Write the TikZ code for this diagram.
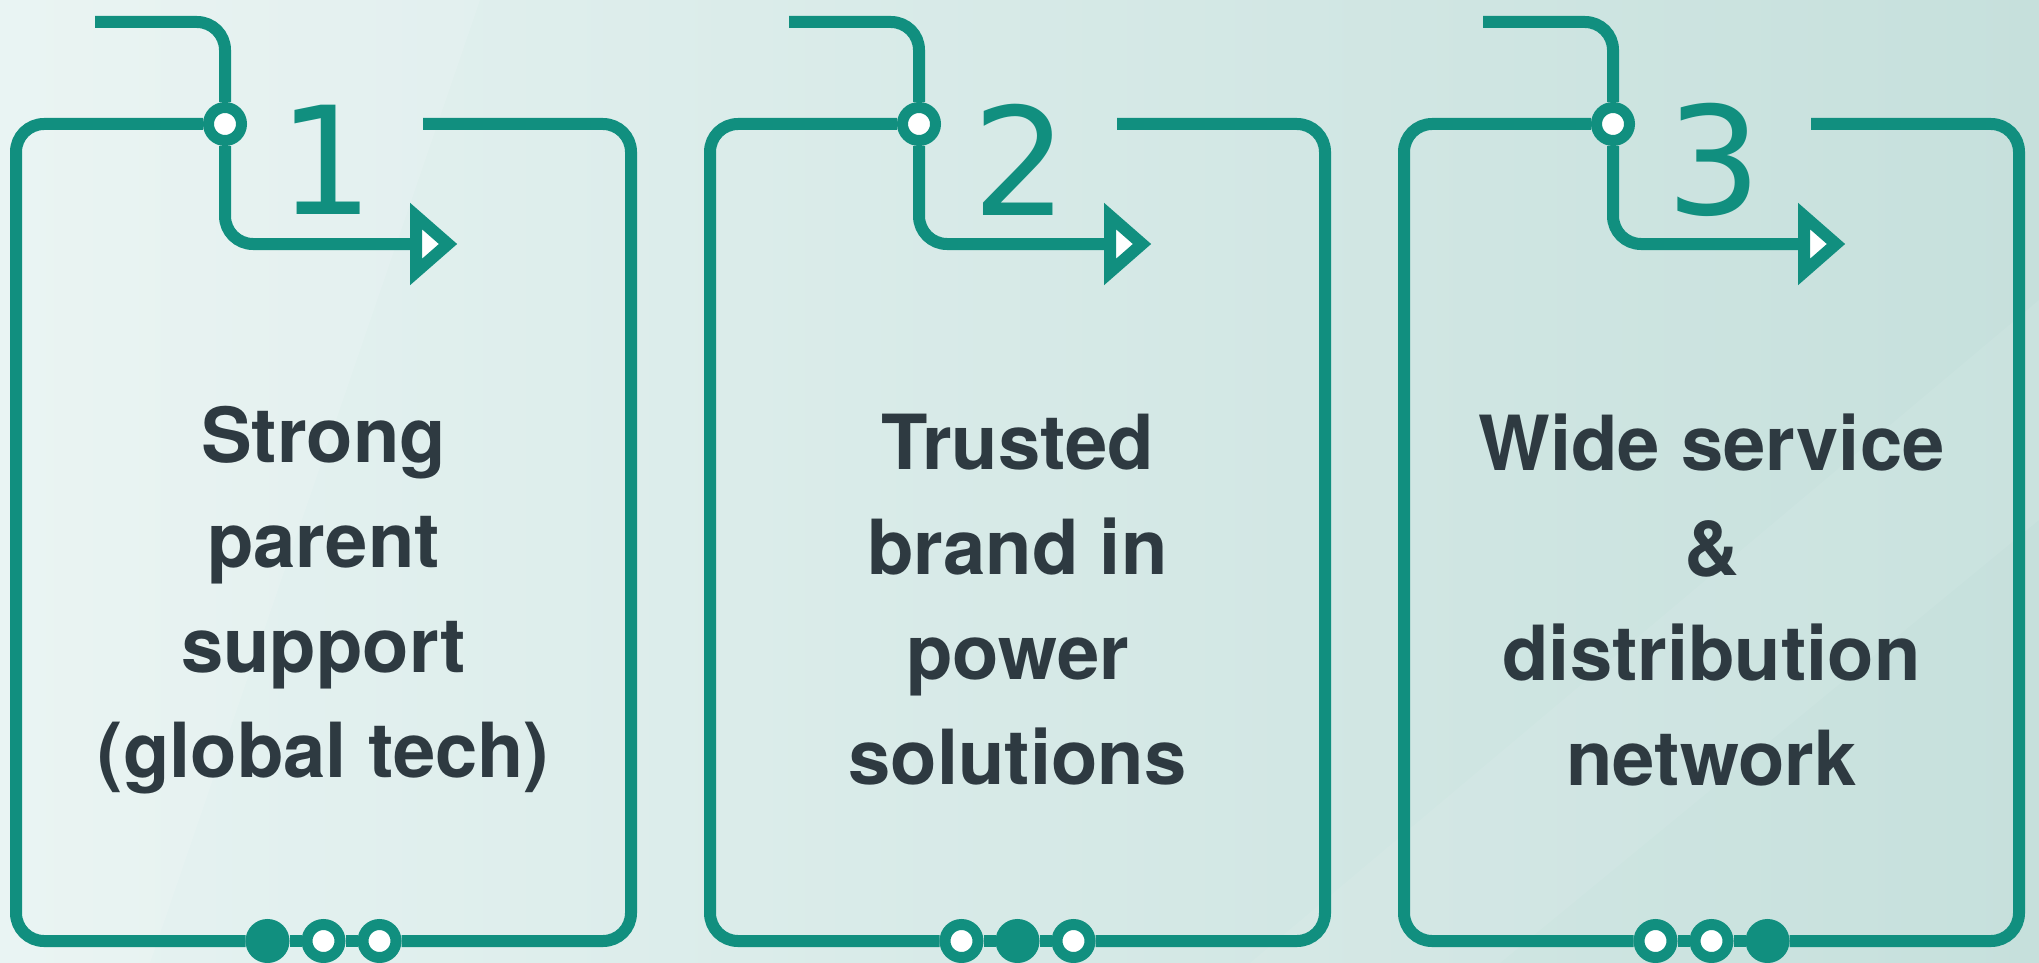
\documentclass[tikz,border=0pt]{standalone}
\usepackage{fontspec}
\setmainfont{TeX Gyre Heros}
\newfontfamily\digitfont{DejaVu Sans}
\usepackage{tikz}
\usetikzlibrary{calc}
\definecolor{trackcol}{HTML}{118F7F}
\definecolor{textcol}{HTML}{2E3A41}
\definecolor{bgleft}{HTML}{E7F3F2}
\definecolor{bgright}{HTML}{C6E0DC}
\tikzset{
  track/.style={line width=6pt,trackcol,rounded corners=14pt},
  junction/.style={circle,draw=trackcol,line width=5.5pt,fill=white,inner sep=0pt,minimum size=16.5pt},
  dotopen/.style={junction},
  dotfull/.style={junction,fill=trackcol},
  arrowhead/.style={line width=6pt,draw=trackcol,fill=white,line join=miter},
  digit/.style={text=trackcol,inner sep=0pt,font=\digitfont\fontsize{75}{75}\selectfont},
  caption/.style={text=textcol,align=center,inner sep=0pt,font=\bfseries\fontsize{38}{52.5}\selectfont},
}

\begin{document}
\begin{tikzpicture}[x=0.5pt,y=-0.5pt]
  \useasboundingbox (0,0) rectangle (2039,963);
  \shade[left color=bgleft,right color=bgright] (0,0) rectangle (2039,963);
  \fill[white,opacity=0.12] (0,0) -- (480,0) -- (150,963) -- (0,963) -- cycle;
  \fill[white,opacity=0.07] (1250,963) -- (2039,300) -- (2039,520) -- (1500,963) -- cycle;
  \foreach \i/\num/\txt/\sa/\sb/\sc in {
      0/1/{Strong\\parent\\support\\(global tech)}/dotfull/dotopen/dotopen,
      1/2/{Trusted\\brand in\\power\\solutions}/dotopen/dotfull/dotopen,
      2/3/{Wide service\\\&\\distribution\\network}/dotopen/dotopen/dotfull}{
    \pgfmathsetmacro\L{16+694*\i}
    \pgfmathsetmacro\R{\L+615}
    \pgfmathsetmacro\C{\L+307.5}
    \coordinate (in\num) at (\L+79,22);
    \coordinate (g\num) at (\L+407,124);
    \coordinate (a\num) at (\L+400,244);
    \node[junction] (j\num) at (\L+209,124) {};
    \node[digit] (n\num) at (\L+310,160) {\num};
    \node[caption] (t\num) at (\C,600) {\txt};
    \node[\sa] (da\num) at (\C-56,941) {};
    \node[\sb] (db\num) at (\C,941) {};
    \node[\sc] (dc\num) at (\C+56,941) {};
    \draw[track] (in\num) -| (j\num);
    \draw[track] (j\num) |- (a\num);
    \draw[arrowhead] (a\num) -- ++(0,-28) -- ++(32,28) -- ++(-32,28) -- cycle;
    \draw[track] (j\num) -| (\L,941) -- (da\num);
    \draw[track] (da\num) -- (db\num) -- (dc\num);
    \draw[track] (dc\num) -| (\R,124) -- (g\num);
  }
\end{tikzpicture}
\end{document}
